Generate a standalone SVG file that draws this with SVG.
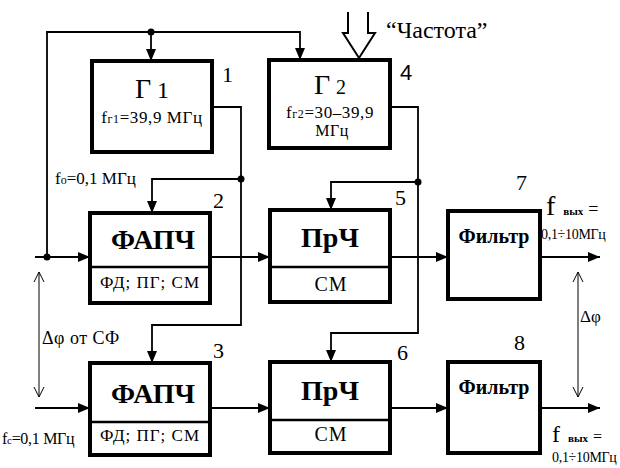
<svg xmlns="http://www.w3.org/2000/svg" width="620" height="468" viewBox="0 0 620 468" font-family="'Liberation Serif', 'DejaVu Serif', 'Times New Roman', serif">
<style>
  .box{fill:#fff;stroke:#000;stroke-width:4}
  .div{stroke:#000;stroke-width:2.5}
  .ln{fill:none;stroke:#000;stroke-width:1.8}
  .thin{fill:none;stroke:#000;stroke-width:1}
  .big{font-size:28px}
  .bold{font-weight:bold}
  .num{font-size:22px}
</style>
<defs>
  <marker id="arr" viewBox="0 0 12 10" refX="12" refY="5" markerWidth="12" markerHeight="10" markerUnits="userSpaceOnUse" orient="auto">
    <path d="M0,0 L12,5 L0,10 z" fill="#000"/>
  </marker>
  <marker id="open" viewBox="0 0 10 14" refX="10" refY="7" markerWidth="10" markerHeight="14" markerUnits="userSpaceOnUse" orient="auto-start-reverse">
    <path d="M0,2 L10,7 L0,12" fill="none" stroke="#000" stroke-width="1"/>
  </marker>
</defs>

<g id="connectors">
  <polyline class="ln" points="47,257 47,32 300,32 300,60" marker-end="url(#arr)"/>
  <line class="ln" x1="151" y1="32" x2="151" y2="61" marker-end="url(#arr)"/>
  <circle cx="151" cy="32" r="3.5"/>
  <polyline class="ln" points="212,107 241,107 241,325 152,325 152,363" marker-end="url(#arr)"/>
  <polyline class="ln" points="241,179 152,179 152,213" marker-end="url(#arr)"/>
  <circle cx="241" cy="179" r="3.5"/>
  <polyline class="ln" points="390,107 418,107 418,333 331,333 331,362" marker-end="url(#arr)"/>
  <polyline class="ln" points="418,182 331,182 331,210" marker-end="url(#arr)"/>
  <circle cx="418" cy="182" r="3.5"/>
  <line class="ln" x1="35" y1="257" x2="90" y2="257" marker-end="url(#arr)"/>
  <circle cx="47" cy="257" r="3.5"/>
  <line class="ln" x1="210" y1="257" x2="270" y2="257" marker-end="url(#arr)"/>
  <line class="ln" x1="390" y1="257" x2="448" y2="257" marker-end="url(#arr)"/>
  <line class="ln" x1="540" y1="257" x2="600" y2="257" marker-end="url(#arr)"/>
  <line class="ln" x1="35" y1="408" x2="90" y2="408" marker-end="url(#arr)"/>
  <line class="ln" x1="210" y1="408" x2="270" y2="408" marker-end="url(#arr)"/>
  <line class="ln" x1="390" y1="408" x2="448" y2="408" marker-end="url(#arr)"/>
  <line class="ln" x1="540" y1="408" x2="600" y2="408" marker-end="url(#arr)"/>
  <line class="thin" x1="39" y1="272" x2="39" y2="397" marker-start="url(#open)" marker-end="url(#open)"/>
  <line class="thin" x1="578" y1="272" x2="578" y2="397" marker-start="url(#open)" marker-end="url(#open)"/>
  <path d="M348,12 V33 H343 L359,58 L375,33 H368 V12" fill="#fff" stroke="#000" stroke-width="2"/>
</g>

<g id="g1">
  <rect class="box" x="92" y="61" width="120" height="91"/>
  <text x="152" y="98" text-anchor="middle" class="big">Г<tspan font-size="24" dx="6">1</tspan></text>
  <text x="152" y="123" text-anchor="middle" font-size="17" letter-spacing="0.6">f<tspan font-size="12">г1</tspan>=39,9 МГц</text>
  <text x="222" y="82" class="num">1</text>
</g>

<g id="g2">
  <rect class="box" x="269" y="60" width="121" height="88"/>
  <text x="330" y="94" text-anchor="middle" class="big">Г<tspan font-size="20" dx="6">2</tspan></text>
  <text x="330" y="118" text-anchor="middle" font-size="17" letter-spacing="0.6">f<tspan font-size="12">г2</tspan>=30–39,9</text>
  <text x="332" y="136" text-anchor="middle" font-size="16" letter-spacing="0.5">МГц</text>
  <text x="400" y="80" class="num" font-family="'Liberation Sans', sans-serif" font-size="20">4</text>
  <text x="386" y="38" font-size="24">“Частота”</text>
</g>

<g id="pll1">
  <rect class="box" x="90" y="213" width="120" height="90"/>
  <line class="div" x1="90" y1="267" x2="210" y2="267"/>
  <text x="153" y="249" text-anchor="middle" class="big bold">ФАПЧ</text>
  <text x="150" y="288" text-anchor="middle" font-size="17" letter-spacing="1">ФД; ПГ; СМ</text>
  <text x="213" y="208" class="num">2</text>
  <text x="55" y="184" font-size="17">f<tspan font-size="12">о</tspan>=0,1 МГц</text>
</g>

<g id="mix1">
  <rect class="box" x="270" y="210" width="120" height="92"/>
  <line class="div" x1="270" y1="267" x2="390" y2="267"/>
  <text x="330" y="247" text-anchor="middle" class="big bold">ПрЧ</text>
  <text x="331" y="291" text-anchor="middle" font-size="20" letter-spacing="1">СМ</text>
  <text x="395" y="205" class="num">5</text>
</g>

<g id="filt1">
  <rect class="box" x="448" y="211" width="92" height="88"/>
  <text x="494" y="243" text-anchor="middle" font-size="20" class="bold">Фильтр</text>
  <text x="516" y="190" class="num">7</text>
  <text x="546" y="215"><tspan font-size="28">f</tspan><tspan font-size="11" class="bold" dx="8">вых</tspan><tspan font-size="18" dx="5">=</tspan></text>
  <text x="541" y="239" font-size="14" letter-spacing="-0.3">0,1÷10МГц</text>
</g>

<g id="pll2">
  <rect class="box" x="90" y="363" width="120" height="92"/>
  <line class="div" x1="90" y1="422" x2="210" y2="422"/>
  <text x="153" y="403" text-anchor="middle" class="big bold">ФАПЧ</text>
  <text x="150" y="441" text-anchor="middle" font-size="17" letter-spacing="1">ФД; ПГ; СМ</text>
  <text x="213" y="358" class="num">3</text>
  <text x="2" y="444" font-size="16" letter-spacing="-0.3">f<tspan font-size="11">с</tspan>=0,1 МГц</text>
  <text x="42" y="344" font-size="18" letter-spacing="0.5">Δφ от СФ</text>
</g>

<g id="mix2">
  <rect class="box" x="270" y="362" width="120" height="91"/>
  <line class="div" x1="270" y1="420" x2="390" y2="420"/>
  <text x="330" y="400" text-anchor="middle" class="big bold">ПрЧ</text>
  <text x="331" y="441" text-anchor="middle" font-size="20" letter-spacing="1">СМ</text>
  <text x="397" y="360" class="num">6</text>
</g>

<g id="filt2">
  <rect class="box" x="448" y="362" width="92" height="91"/>
  <text x="494" y="394" text-anchor="middle" font-size="20" class="bold">Фильтр</text>
  <text x="514" y="350" class="num">8</text>
  <text x="552" y="442"><tspan font-size="24">f</tspan><tspan font-size="11" class="bold" dx="8">вых</tspan><tspan font-size="16" dx="5">=</tspan></text>
  <text x="552" y="462" font-size="14" letter-spacing="-0.3">0,1÷10МГц</text>
  <text x="580" y="322" font-size="17">Δφ</text>
</g>
</svg>
